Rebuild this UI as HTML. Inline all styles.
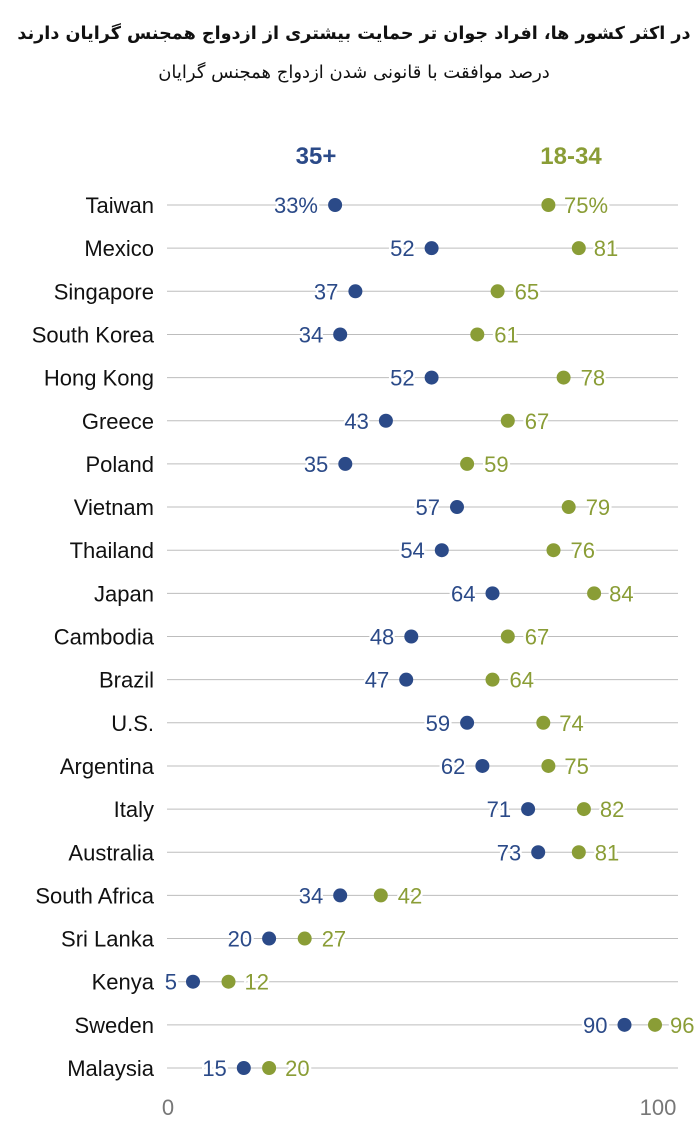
<!DOCTYPE html>
<html>
<head>
<meta charset="utf-8">
<style>
  html, body { margin:0; padding:0; background:#fff; }
  body { width:700px; height:1130px; position:relative; overflow:hidden; }
  .title { position:absolute; left:0; top:24px; width:708px; text-align:center; direction:rtl;
           font-family:"DejaVu Sans","Liberation Sans",sans-serif; font-weight:bold; font-size:17.6px; color:#111; white-space:nowrap; }
  .sub { position:absolute; left:0; top:62px; width:708px; text-align:center; direction:rtl;
         font-family:"DejaVu Sans","Liberation Sans",sans-serif; font-size:18px; color:#111; white-space:nowrap; }
  svg { position:absolute; left:0; top:0; }
  .cl { font-family:"Liberation Sans",sans-serif; font-size:22px; fill:#111; text-anchor:end; }
  .bl { font-family:"Liberation Sans",sans-serif; font-size:22px; fill:#2b4a88; text-anchor:end; paint-order:stroke; stroke:#fff; stroke-width:5px; }
  .gl { font-family:"Liberation Sans",sans-serif; font-size:22px; fill:#8a9d36; text-anchor:start; paint-order:stroke; stroke:#fff; stroke-width:5px; }
  .ax { font-family:"Liberation Sans",sans-serif; font-size:22px; fill:#777; text-anchor:middle; }
  .hd { font-family:"Liberation Sans",sans-serif; font-size:24px; font-weight:bold; }
  line { stroke:#bdbdbd; stroke-width:1; }
  .b { fill:#2b4a88; }
  .g { fill:#8a9d36; }
</style>
</head>
<body>
<div class="title">در اکثر کشور ها، افراد جوان تر حمایت بیشتری از ازدواج همجنس گرایان دارند</div>
<div class="sub">درصد موافقت با قانونی شدن ازدواج همجنس گرایان</div>
<svg width="700" height="1130" viewBox="0 0 700 1130">
  <text class="hd" x="316" y="164" text-anchor="middle" fill="#2b4a88">35+</text>
  <text class="hd" x="571" y="164" text-anchor="middle" fill="#8a9d36">18-34</text>

  <g>
    <line x1="167" x2="678" y1="205" y2="205"/>
    <text class="cl" x="154" y="213">Taiwan</text>
    <text class="bl" x="318" y="213">33%</text>
    <text class="gl" x="564" y="213">75%</text>
    <circle class="b" cx="335.1" cy="205" r="7"/>
    <circle class="g" cx="548.4" cy="205" r="7"/>
  </g>
  <g>
    <line x1="167" x2="678" y1="248.15" y2="248.15"/>
    <text class="cl" x="154" y="256.15">Mexico</text>
    <text class="bl" x="414.6" y="256.15">52</text>
    <text class="gl" x="593.8" y="256.15">81</text>
    <circle class="b" cx="431.6" cy="248.15" r="7"/>
    <circle class="g" cx="578.8" cy="248.15" r="7"/>
  </g>
  <g>
    <line x1="167" x2="678" y1="291.3" y2="291.3"/>
    <text class="cl" x="154" y="299.3">Singapore</text>
    <text class="bl" x="338.4" y="299.3">37</text>
    <text class="gl" x="514.6" y="299.3">65</text>
    <circle class="b" cx="355.4" cy="291.3" r="7"/>
    <circle class="g" cx="497.6" cy="291.3" r="7"/>
  </g>
  <g>
    <line x1="167" x2="678" y1="334.45" y2="334.45"/>
    <text class="cl" x="154" y="342.45">South Korea</text>
    <text class="bl" x="323.2" y="342.45">34</text>
    <text class="gl" x="494.3" y="342.45">61</text>
    <circle class="b" cx="340.2" cy="334.45" r="7"/>
    <circle class="g" cx="477.3" cy="334.45" r="7"/>
  </g>
  <g>
    <line x1="167" x2="678" y1="377.6" y2="377.6"/>
    <text class="cl" x="154" y="385.6">Hong Kong</text>
    <text class="bl" x="414.6" y="385.6">52</text>
    <text class="gl" x="580.6" y="385.6">78</text>
    <circle class="b" cx="431.6" cy="377.6" r="7"/>
    <circle class="g" cx="563.6" cy="377.6" r="7"/>
  </g>
  <g>
    <line x1="167" x2="678" y1="420.75" y2="420.75"/>
    <text class="cl" x="154" y="428.75">Greece</text>
    <text class="bl" x="368.9" y="428.75">43</text>
    <text class="gl" x="524.8" y="428.75">67</text>
    <circle class="b" cx="385.9" cy="420.75" r="7"/>
    <circle class="g" cx="507.8" cy="420.75" r="7"/>
  </g>
  <g>
    <line x1="167" x2="678" y1="463.9" y2="463.9"/>
    <text class="cl" x="154" y="471.9">Poland</text>
    <text class="bl" x="328.3" y="471.9">35</text>
    <text class="gl" x="484.1" y="471.9">59</text>
    <circle class="b" cx="345.3" cy="463.9" r="7"/>
    <circle class="g" cx="467.1" cy="463.9" r="7"/>
  </g>
  <g>
    <line x1="167" x2="678" y1="507.05" y2="507.05"/>
    <text class="cl" x="154" y="515.05">Vietnam</text>
    <text class="bl" x="440" y="515.05">57</text>
    <text class="gl" x="585.7" y="515.05">79</text>
    <circle class="b" cx="457.0" cy="507.05" r="7"/>
    <circle class="g" cx="568.7" cy="507.05" r="7"/>
  </g>
  <g>
    <line x1="167" x2="678" y1="550.2" y2="550.2"/>
    <text class="cl" x="154" y="558.2">Thailand</text>
    <text class="bl" x="424.8" y="558.2">54</text>
    <text class="gl" x="570.5" y="558.2">76</text>
    <circle class="b" cx="441.8" cy="550.2" r="7"/>
    <circle class="g" cx="553.5" cy="550.2" r="7"/>
  </g>
  <g>
    <line x1="167" x2="678" y1="593.35" y2="593.35"/>
    <text class="cl" x="154" y="601.35">Japan</text>
    <text class="bl" x="475.5" y="601.35">64</text>
    <text class="gl" x="609.1" y="601.35">84</text>
    <circle class="b" cx="492.5" cy="593.35" r="7"/>
    <circle class="g" cx="594.1" cy="593.35" r="7"/>
  </g>
  <g>
    <line x1="167" x2="678" y1="636.5" y2="636.5"/>
    <text class="cl" x="154" y="644.5">Cambodia</text>
    <text class="bl" x="394.3" y="644.5">48</text>
    <text class="gl" x="524.8" y="644.5">67</text>
    <circle class="b" cx="411.3" cy="636.5" r="7"/>
    <circle class="g" cx="507.8" cy="636.5" r="7"/>
  </g>
  <g>
    <line x1="167" x2="678" y1="679.65" y2="679.65"/>
    <text class="cl" x="154" y="687.65">Brazil</text>
    <text class="bl" x="389.2" y="687.65">47</text>
    <text class="gl" x="509.5" y="687.65">64</text>
    <circle class="b" cx="406.2" cy="679.65" r="7"/>
    <circle class="g" cx="492.5" cy="679.65" r="7"/>
  </g>
  <g>
    <line x1="167" x2="678" y1="722.8" y2="722.8"/>
    <text class="cl" x="154" y="730.8">U.S.</text>
    <text class="bl" x="450.1" y="730.8">59</text>
    <text class="gl" x="559.3" y="730.8">74</text>
    <circle class="b" cx="467.1" cy="722.8" r="7"/>
    <circle class="g" cx="543.3" cy="722.8" r="7"/>
  </g>
  <g>
    <line x1="167" x2="678" y1="765.95" y2="765.95"/>
    <text class="cl" x="154" y="773.95">Argentina</text>
    <text class="bl" x="465.4" y="773.95">62</text>
    <text class="gl" x="564.4" y="773.95">75</text>
    <circle class="b" cx="482.4" cy="765.95" r="7"/>
    <circle class="g" cx="548.4" cy="765.95" r="7"/>
  </g>
  <g>
    <line x1="167" x2="678" y1="809.1" y2="809.1"/>
    <text class="cl" x="154" y="817.1">Italy</text>
    <text class="bl" x="511.1" y="817.1">71</text>
    <text class="gl" x="599.9" y="817.1">82</text>
    <circle class="b" cx="528.1" cy="809.1" r="7"/>
    <circle class="g" cx="583.9" cy="809.1" r="7"/>
  </g>
  <g>
    <line x1="167" x2="678" y1="852.25" y2="852.25"/>
    <text class="cl" x="154" y="860.25">Australia</text>
    <text class="bl" x="521.2" y="860.25">73</text>
    <text class="gl" x="594.8" y="860.25">81</text>
    <circle class="b" cx="538.2" cy="852.25" r="7"/>
    <circle class="g" cx="578.8" cy="852.25" r="7"/>
  </g>
  <g>
    <line x1="167" x2="678" y1="895.4" y2="895.4"/>
    <text class="cl" x="154" y="903.4">South Africa</text>
    <text class="bl" x="323.2" y="903.4">34</text>
    <text class="gl" x="397.8" y="903.4">42</text>
    <circle class="b" cx="340.2" cy="895.4" r="7"/>
    <circle class="g" cx="380.8" cy="895.4" r="7"/>
  </g>
  <g>
    <line x1="167" x2="678" y1="938.55" y2="938.55"/>
    <text class="cl" x="154" y="946.55">Sri Lanka</text>
    <text class="bl" x="252.1" y="946.55">20</text>
    <text class="gl" x="321.7" y="946.55">27</text>
    <circle class="b" cx="269.1" cy="938.55" r="7"/>
    <circle class="g" cx="304.7" cy="938.55" r="7"/>
  </g>
  <g>
    <line x1="167" x2="678" y1="981.7" y2="981.7"/>
    <text class="cl" x="154" y="989.7">Kenya</text>
    <text class="bl" x="177" y="989.7">5</text>
    <text class="gl" x="244.5" y="989.7">12</text>
    <circle class="b" cx="193.0" cy="981.7" r="7"/>
    <circle class="g" cx="228.5" cy="981.7" r="7"/>
  </g>
  <g>
    <line x1="167" x2="678" y1="1024.85" y2="1024.85"/>
    <text class="cl" x="154" y="1032.85">Sweden</text>
    <text class="bl" x="607.5" y="1032.85">90</text>
    <text class="gl" x="670" y="1032.85">96</text>
    <circle class="b" cx="624.5" cy="1024.85" r="7"/>
    <circle class="g" cx="655.0" cy="1024.85" r="7"/>
  </g>
  <g>
    <line x1="167" x2="678" y1="1068" y2="1068"/>
    <text class="cl" x="154" y="1076">Malaysia</text>
    <text class="bl" x="226.8" y="1076">15</text>
    <text class="gl" x="285.1" y="1076">20</text>
    <circle class="b" cx="243.8" cy="1068" r="7"/>
    <circle class="g" cx="269.1" cy="1068" r="7"/>
  </g>

  <text class="ax" x="168" y="1115">0</text>
  <text class="ax" x="658" y="1115">100</text>
</svg>
</body>
</html>
